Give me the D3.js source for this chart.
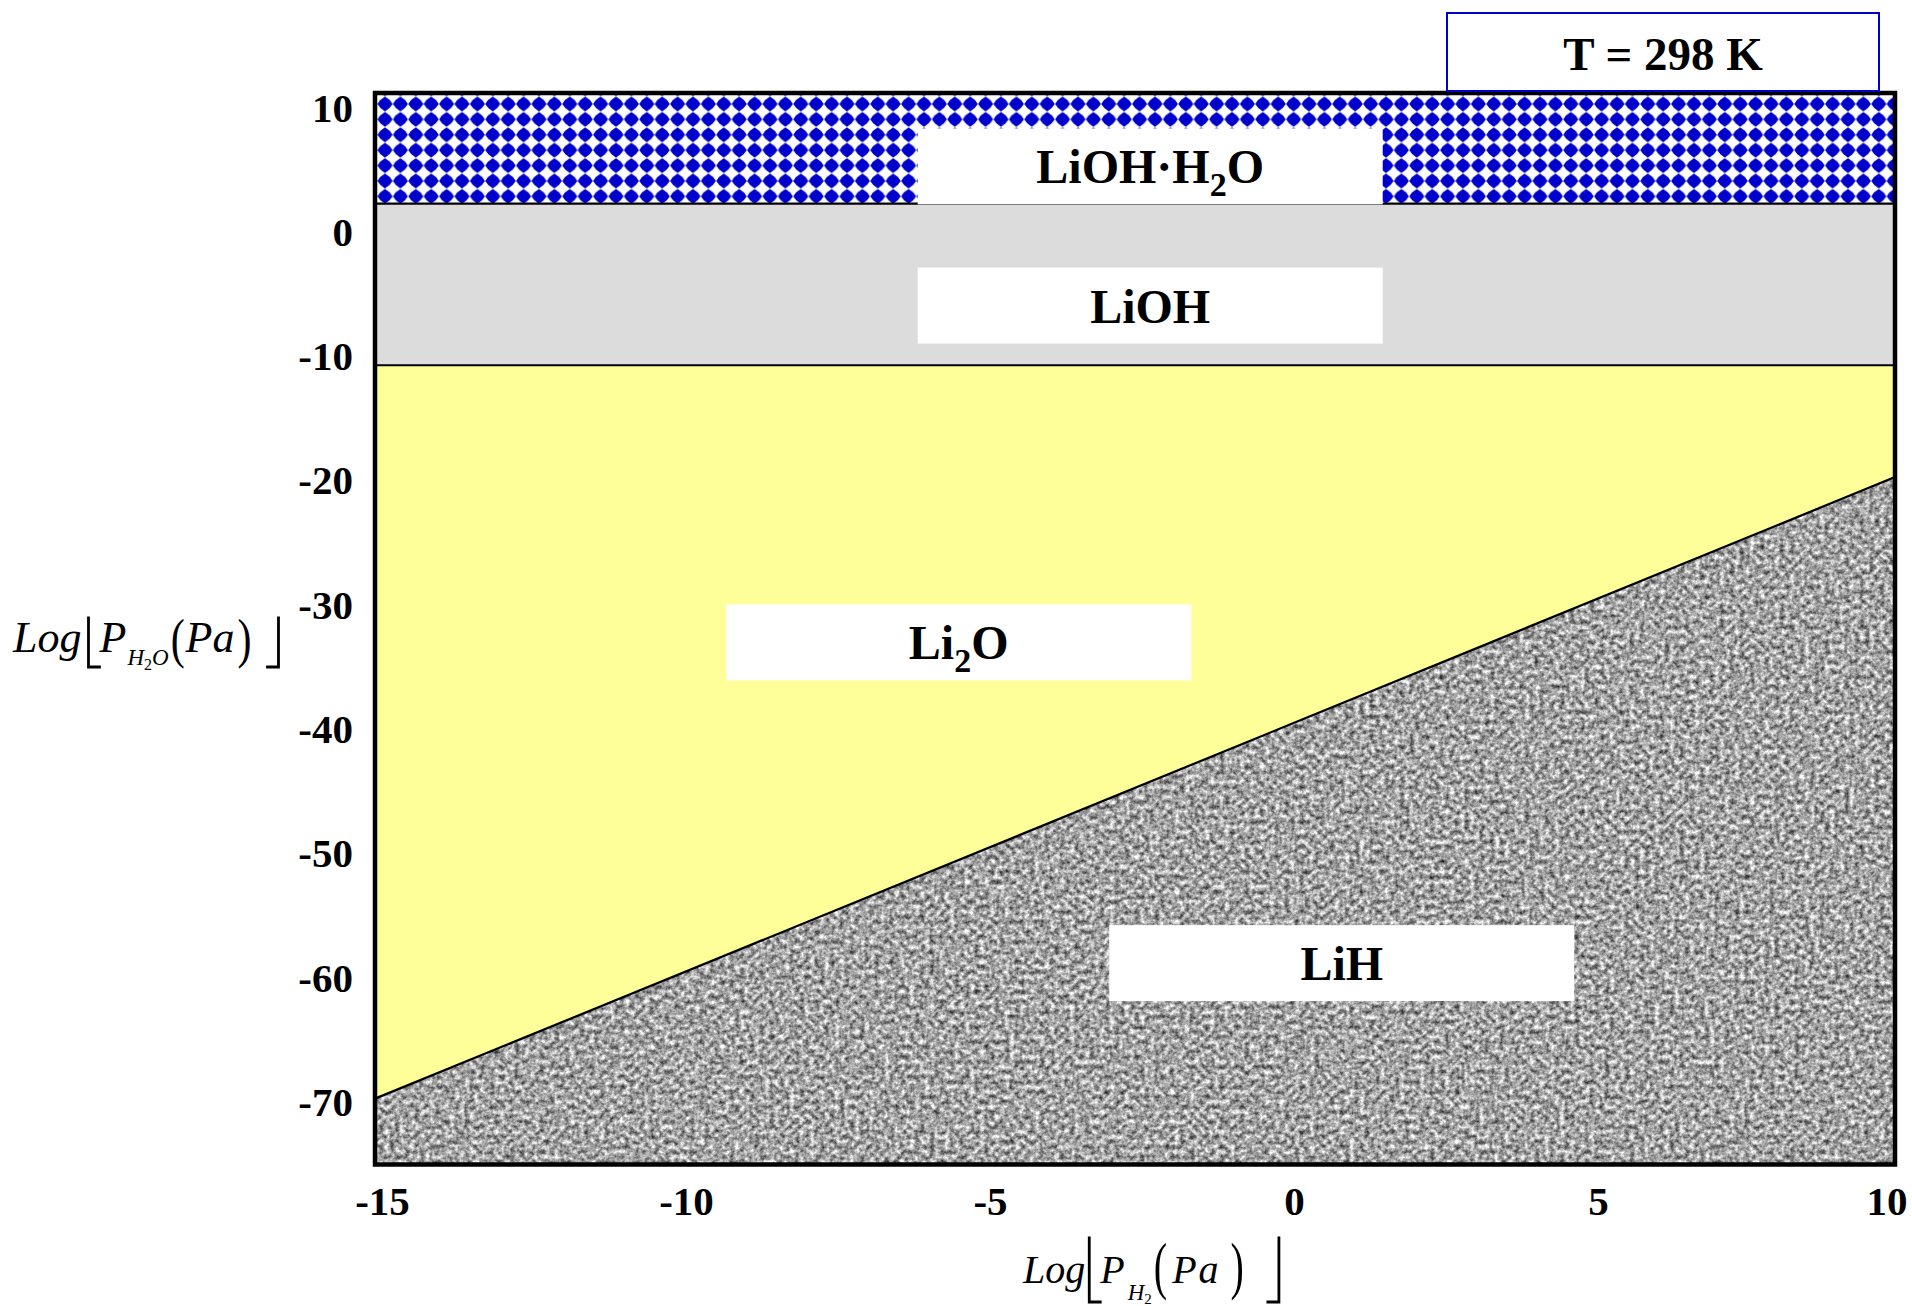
<!DOCTYPE html>
<html>
<head>
<meta charset="utf-8">
<script src="https://cdn.jsdelivr.net/npm/d3@7"></script>
<style>
  html, body { margin: 0; padding: 0; background: #fff; }
  svg { display: block; }
</style>
</head>
<body>
<svg id="chart" width="1912" height="1306"></svg>
<script>
// Li–O–H phase stability diagram at 298 K: log P(H2O) against log P(H2)

const xTicks = [-15, -10, -5, 0, 5, 10];
const yTicks = [10, 0, -10, -20, -30, -40, -50, -60, -70];
const xDomain = [-15, 10];
const yDomain = [-75, 11.2];

const phaseNames = ["LiOH·H2O", "LiOH", "Li2O", "LiH"];
// label centres, in (log P_H2, log P_H2O)
const labelLogPH2 = [-2.25, -2.25, -5.4, 0.9];
const labelLogPH2O = [5.3, -5.9, -33.0, -58.8];

// horizontal boundaries (independent of P_H2)
const hydrateBoundary = 2.3;     // LiOH·H2O / LiOH
const hydroxideBoundary = -10.7; // LiOH / Li2O
// Li2O / LiH boundary (slope 2)
const hydrideLogPH2 = [-15, 10];
const hydrideLogPH2O = [-69.7, -19.7];

const temperatureLabel = "T = 298 K";

const SERIF = "'Liberation Serif', 'Times New Roman', Times, serif";

const svg = d3.select("#chart");
const x = d3.scaleLinear().domain(xDomain).range([375, 1895]);
const y = d3.scaleLinear().domain(yDomain).range([1164.5, 93]);

// ---------- fills ----------
const defs = svg.append("defs");

// blue diamond lattice with slightly bulging sides
const pat = defs.append("pattern")
  .attr("id", "diamonds")
  .attr("patternUnits", "userSpaceOnUse")
  .attr("width", 15.4).attr("height", 15.4)
  .attr("x", x(-15) + 2.3).attr("y", y(yDomain[1]) + 3.3);
pat.append("rect").attr("width", 15.4).attr("height", 15.4).attr("fill", "#fff");
pat.append("path")
  .attr("d", "M7.7,0.2 Q12.6,2.8 15.2,7.7 Q12.6,12.6 7.7,15.2 Q2.8,12.6 0.2,7.7 Q2.8,2.8 7.7,0.2Z")
  .attr("fill", "#0000cc");

// mottled grey granite
const granite = defs.append("filter")
  .attr("id", "granite")
  .attr("x", 0).attr("y", 0).attr("width", 1).attr("height", 1)
  .attr("color-interpolation-filters", "sRGB");
granite.append("feTurbulence")
  .attr("type", "fractalNoise")
  .attr("baseFrequency", 0.2)
  .attr("numOctaves", 3)
  .attr("seed", 11)
  .attr("result", "noise");
granite.append("feColorMatrix")
  .attr("in", "noise")
  .attr("type", "matrix")
  .attr("values", "1.2 0 0 0 0.04  1.2 0 0 0 0.04  1.2 0 0 0 0.04  0 0 0 0 1")
  .attr("result", "grey");
granite.append("feGaussianBlur")
  .attr("in", "grey").attr("stdDeviation", 0.5).attr("result", "soft");
granite.append("feComposite")
  .attr("in", "soft").attr("in2", "SourceGraphic").attr("operator", "in");

// ---------- phase regions ----------
const yTop = yDomain[1], yBottom = yDomain[0];
const regions = [
  { pts: [[-15, yTop], [10, yTop], [10, hydrateBoundary], [-15, hydrateBoundary]], fill: "url(#diamonds)" },
  { pts: [[-15, hydrateBoundary], [10, hydrateBoundary], [10, hydroxideBoundary], [-15, hydroxideBoundary]], fill: "#dcdcdc" },
  { pts: [[-15, hydroxideBoundary], [10, hydroxideBoundary],
          [hydrideLogPH2[1], hydrideLogPH2O[1]], [hydrideLogPH2[0], hydrideLogPH2O[0]]], fill: "#ffff99" },
  { pts: [[hydrideLogPH2[0], hydrideLogPH2O[0]], [hydrideLogPH2[1], hydrideLogPH2O[1]],
          [10, yBottom], [-15, yBottom]], fill: "#a8a8a8", filter: "url(#granite)" }
];

const plot = svg.append("g");
plot.selectAll("path.region")
  .data(regions)
  .join("path")
  .attr("class", "region")
  .attr("d", d => "M" + d.pts.map(p => [x(p[0]), y(p[1])].join(",")).join("L") + "Z")
  .attr("fill", d => d.fill)
  .attr("filter", d => d.filter || null);

// ---------- boundaries ----------
const boundaries = [
  [[-15, hydrateBoundary], [10, hydrateBoundary]],
  [[-15, hydroxideBoundary], [10, hydroxideBoundary]],
  [[hydrideLogPH2[0], hydrideLogPH2O[0]], [hydrideLogPH2[1], hydrideLogPH2O[1]]]
];
const line = d3.line().x(d => x(d[0])).y(d => y(d[1]));
plot.selectAll("path.boundary")
  .data(boundaries)
  .join("path")
  .attr("class", "boundary")
  .attr("d", line)
  .attr("fill", "none")
  .attr("stroke", "#000")
  .attr("stroke-width", 2.2);

// ---------- phase labels ----------
function chemParts(name) {
  return name.split(/(\d+)/).filter(s => s.length).map(s => ({ text: s, sub: /^\d+$/.test(s) }));
}

const boxW = 465, boxH = 76;
const labels = plot.selectAll("g.phase")
  .data(phaseNames.map((n, i) => ({ name: n, cx: labelLogPH2[i], cy: labelLogPH2O[i] })))
  .join("g")
  .attr("class", "phase")
  .attr("transform", d => `translate(${x(d.cx)},${y(d.cy)})`);

labels.append("rect")
  .attr("x", -boxW / 2).attr("y", -boxH / 2)
  .attr("width", boxW).attr("height", boxH)
  .attr("fill", "#fff");

labels.append("text")
  .attr("text-anchor", "middle")
  .attr("y", 17)
  .attr("font-family", SERIF)
  .attr("font-weight", "bold")
  .attr("font-size", 48)
  .each(function (d) {
    const t = d3.select(this);
    let shifted = false;
    chemParts(d.name).forEach(p => {
      const ts = t.append("tspan").text(p.text);
      if (p.sub) { ts.attr("font-size", 34).attr("dy", 13); shifted = true; }
      else if (shifted) { ts.attr("dy", -13); shifted = false; }
    });
  });

// ---------- frame ----------
svg.append("rect")
  .attr("x", x(xDomain[0])).attr("y", y(yDomain[1]))
  .attr("width", x(xDomain[1]) - x(xDomain[0]))
  .attr("height", y(yDomain[0]) - y(yDomain[1]))
  .attr("fill", "none")
  .attr("stroke", "#000")
  .attr("stroke-width", 4.5);

// ---------- axes ----------
const fmt = d => String(d);
const yAxis = svg.append("g")
  .attr("transform", `translate(${x(xDomain[0])},0)`)
  .call(d3.axisLeft(y).tickValues(yTicks).tickSize(0).tickPadding(22).tickFormat(fmt));
const xAxis = svg.append("g")
  .attr("transform", `translate(0,${y(yDomain[0])})`)
  .call(d3.axisBottom(x).tickValues(xTicks).tickSize(0).tickPadding(21).tickFormat(fmt));
[yAxis, xAxis].forEach(a => {
  a.select(".domain").remove();
  a.selectAll("text")
    .attr("font-family", SERIF)
    .attr("font-weight", "bold")
    .attr("font-size", 41)
    .attr("fill", "#000");
});
// x labels sit a little right of their ticks; the last one stays inside the page
xAxis.selectAll(".tick text").attr("dx", 7);
xAxis.selectAll(".tick").filter(d => d === xDomain[1]).select("text")
  .attr("text-anchor", "end").attr("dx", 12);

// ---------- temperature box ----------
const tBox = svg.append("g").attr("transform", `translate(${x(xDomain[1]) - 16},${y(yDomain[1]) - 2})`);
tBox.append("rect")
  .attr("x", -432).attr("y", -78)
  .attr("width", 432).attr("height", 78)
  .attr("fill", "#fff")
  .attr("stroke", "#0000cc")
  .attr("stroke-width", 2);
tBox.append("text")
  .attr("x", -216).attr("y", -21)
  .attr("text-anchor", "middle")
  .attr("font-family", SERIF)
  .attr("font-weight", "bold")
  .attr("font-size", 47)
  .text(temperatureLabel);

// ---------- axis titles: Log⌊P_sub(Pa)⌋ ----------
function mathTitle(opt) {
  const g = svg.append("g");
  let cx = opt.x;
  const s = opt.size;
  const put = (txt, size, italic, dy, spacing) => {
    const t = g.append("text")
      .attr("x", cx).attr("y", opt.baseline + dy)
      .attr("font-family", SERIF)
      .attr("font-style", italic ? "italic" : "normal")
      .attr("font-size", size)
      .attr("letter-spacing", spacing || null)
      .text(txt);
    cx += t.node().getComputedTextLength();
    return t;
  };
  // tall, thin parentheses: normal glyph stretched vertically
  const paren = (txt) => {
    const t = g.append("text")
      .attr("transform", `translate(${cx},${opt.baseline + opt.parenDy}) scale(1,${opt.parenStretch})`)
      .attr("font-family", SERIF)
      .attr("font-size", opt.parenSize)
      .text(txt);
    cx += t.node().getComputedTextLength();
  };
  const bracket = (side) => {
    const yt = opt.baseline + opt.bracketTop, yb = opt.baseline + opt.bracketBottom;
    const w = 11;
    const d = side === "left"
      ? `M${cx + 1},${yt} L${cx + 1},${yb} L${cx + 1 + w},${yb}`
      : `M${cx},${yb} L${cx + w},${yb} L${cx + w},${yt}`;
    g.append("path").attr("d", d).attr("fill", "none").attr("stroke", "#000")
      .attr("stroke-width", 2.8).attr("stroke-linecap", "square");
    cx += w + 1;
  };
  put("Log", s, true, 0);
  cx += opt.gapLog;
  bracket("left");
  put("P", s, true, 0);
  cx += opt.gapSub;
  opt.sub.forEach(p => {
    if (/^\d+$/.test(p)) put(p, opt.subDigitSize, false, opt.subDigitDy);
    else put(p, opt.subSize, true, opt.subDy);
  });
  cx += 2;
  paren("(");
  cx += opt.gapPa;
  put("Pa", s, true, 0, opt.paSpacing);
  cx += opt.gapClose;
  paren(")");
  cx += opt.gapEnd;
  bracket("right");
  return g;
}

mathTitle({
  x: 13, baseline: 652, size: 44,
  sub: ["H", "2", "O"], subSize: 23, subDy: 13, subDigitSize: 16, subDigitDy: 18,
  parenSize: 42, parenStretch: 1.3, parenDy: 5,
  bracketTop: -34, bracketBottom: 15,
  gapLog: 6, gapSub: 1, gapPa: 1, gapClose: 3, gapEnd: 16
});

mathTitle({
  x: 1023, baseline: 1283, size: 40,
  sub: ["H", "2"], subSize: 23, subDy: 17, subDigitSize: 15, subDigitDy: 21,
  parenSize: 40, parenStretch: 1.6, parenDy: 4,
  bracketTop: -45, bracketBottom: 19,
  gapLog: 3, gapSub: 3, gapPa: 5, gapClose: 10, gapEnd: 24, paSpacing: 2
});
</script>
</body>
</html>
